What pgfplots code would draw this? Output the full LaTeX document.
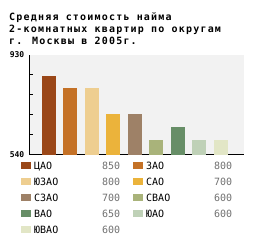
\documentclass[border=0pt]{standalone}
\usepackage{fontspec}
\setmainfont{DejaVu Sans Mono}
\newfontfamily\titlefont[LetterSpace=12]{DejaVu Sans Mono}
\usepackage{pgfplots}
\pgfplotsset{compat=1.18}
\definecolor{bggray}{HTML}{F2F2F2}
\definecolor{valgray}{HTML}{707070}
\definecolor{c1}{HTML}{9A4718}
\definecolor{c2}{HTML}{C47126}
\definecolor{c3}{HTML}{EECE90}
\definecolor{c4}{HTML}{EBB33B}
\definecolor{c5}{HTML}{9E8167}
\definecolor{c6}{HTML}{A9B37A}
\definecolor{c7}{HTML}{678E67}
\definecolor{c8}{HTML}{BFD1B7}
\definecolor{c9}{HTML}{E2E6C6}
\newcommand{\lent}[2]{\makebox[86pt][l]{#1\hfill\textcolor{valgray}{#2}}}
\begin{document}
\begin{tikzpicture}
\path[use as bounding box] (0,0) rectangle (254pt,245pt);
\begin{scope}[every node/.style={anchor=base west, inner sep=0pt, font=\titlefont\bfseries\fontsize{10}{12}\selectfont}]
\node at (9pt,224pt) {Средняя стоимость найма};
\node at (9pt,212pt) {2-комнатных квартир по округам};
\node at (9pt,200pt) {г. Москвы в 2005г.};
\end{scope}
\begin{axis}[at={(29pt,90pt)}, anchor=south west, scale only axis,
  width=215pt, height=100pt,
  xmin=-0.93, xmax=9.07, ymin=540, ymax=930,
  axis x line=bottom, axis y line=left,
  axis line style={-, line width=1pt, black},
  xtick=\empty,
  ytick={618,696,774,852}, yticklabels={},
  extra y ticks={540,930}, extra y tick labels={540,930},
  extra y tick style={major tick length=0pt},
  tick align=inside, major tick length=4pt,
  tick style={black, line width=1pt},
  yticklabel style={anchor=east, inner sep=0pt, xshift=-4.5pt, font=\bfseries\fontsize{8}{9}\selectfont},
  axis background/.style={fill=bggray},
  legend columns=2,
  legend style={at={(-0.0372,-0.072)}, anchor=north west, draw=none, fill=none,
    inner sep=0pt, row sep=9pt,
    nodes={inner sep=0pt, text height=7pt, text depth=0pt, font=\fontsize{10}{12}\selectfont},
    /tikz/every odd column/.append style={column sep=3pt},
    /tikz/every even column/.append style={column sep=13pt}},
  legend image code/.code={\fill[#1] (0pt,-3.5pt) rectangle (10pt,3.5pt);},
]
\addplot[ybar, bar width=14pt, bar shift=0pt, fill=c1, draw=none] coordinates {(0,850)};
\addlegendentry{\lent{ЦАО}{850}}
\addplot[ybar, bar width=14pt, bar shift=0pt, fill=c2, draw=none] coordinates {(1,800)};
\addlegendentry{\lent{ЗАО}{800}}
\addplot[ybar, bar width=14pt, bar shift=0pt, fill=c3, draw=none] coordinates {(2,800)};
\addlegendentry{\lent{ЮЗАО}{800}}
\addplot[ybar, bar width=14pt, bar shift=0pt, fill=c4, draw=none] coordinates {(3,700)};
\addlegendentry{\lent{САО}{700}}
\addplot[ybar, bar width=14pt, bar shift=0pt, fill=c5, draw=none] coordinates {(4,700)};
\addlegendentry{\lent{СЗАО}{700}}
\addplot[ybar, bar width=14pt, bar shift=0pt, fill=c6, draw=none] coordinates {(5,600)};
\addlegendentry{\lent{СВАО}{600}}
\addplot[ybar, bar width=14pt, bar shift=0pt, fill=c7, draw=none] coordinates {(6,650)};
\addlegendentry{\lent{ВАО}{650}}
\addplot[ybar, bar width=14pt, bar shift=0pt, fill=c8, draw=none] coordinates {(7,600)};
\addlegendentry{\lent{ЮАО}{600}}
\addplot[ybar, bar width=14pt, bar shift=0pt, fill=c9, draw=none] coordinates {(8,600)};
\addlegendentry{\lent{ЮВАО}{600}}
\end{axis}
\end{tikzpicture}
\end{document}
